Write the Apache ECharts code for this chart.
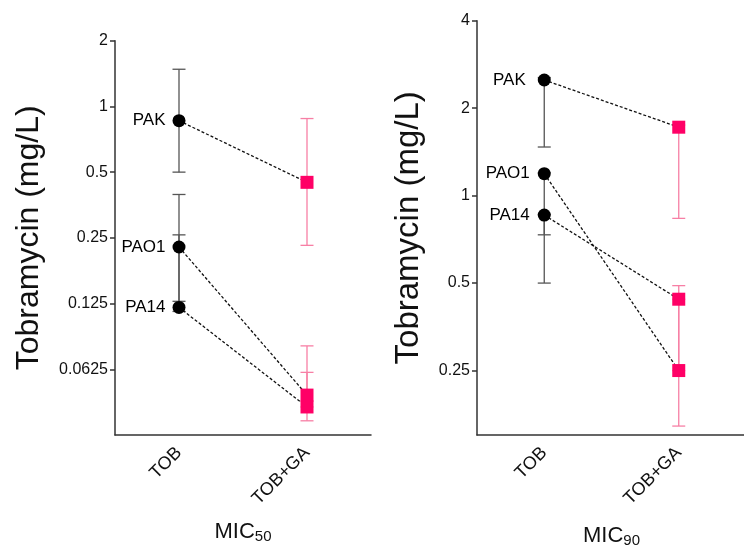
<!DOCTYPE html>
<html>
<head>
<meta charset="utf-8">
<script src="https://cdn.jsdelivr.net/npm/echarts@6/dist/echarts.min.js"></script>
<style>
  html, body { margin: 0; padding: 0; background: #fff; }
  #chart { width: 744px; height: 546px; }
</style>
</head>
<body>
<div id="chart"></div>
<script>
var categories = ["TOB", "TOB+GA"];
var strains = ["PAK", "PAO1", "PA14"];

// MIC50 (mg/L)
var mic50Tob = [0.86, 0.227, 0.12];
var mic50TobLo = [0.5, 0.128, 0.115];
var mic50TobHi = [1.48, 0.395, 0.258];
var mic50Ga = [0.449, 0.0476, 0.042];
var mic50GaLo = [0.231, 0.042, 0.0363];
var mic50GaHi = [0.88, 0.08, 0.0605];
var mic50Ticks = ["2", "1", "0.5", "0.25", "0.125", "0.0625"];

// MIC90 (mg/L)
var mic90Tob = [2.5, 1.19, 0.857];
var mic90TobLo = [1.47, 0.733, 0.5];
var mic90TobHi = [2.55, 1.2, 0.86];
var mic90Ga = [1.72, 0.25, 0.44];
var mic90GaLo = [0.835, 0.161, 0.25];
var mic90GaHi = [1.75, 0.44, 0.49];
var mic90Ticks = ["4", "2", "1", "0.5", "0.25"];

var FONT = "Liberation Sans, Arial, sans-serif";
var PINK = "#ff0066";
var PINK_BAR = "#f77fa5";
var GREY_BAR = "#555";

function lg(v) { return Math.log2(v); }

var myChart = echarts.init(document.getElementById("chart"));

function errorBars(gridIdx, lo, hi, catIdx, color) {
  return {
    type: "custom",
    xAxisIndex: gridIdx,
    yAxisIndex: gridIdx,
    z: 1,
    silent: true,
    data: lo.map(function (v, i) { return [catIdx, lg(v), lg(hi[i])]; }),
    renderItem: function (params, api) {
      var low = api.coord([api.value(0), api.value(1)]);
      var high = api.coord([api.value(0), api.value(2)]);
      var w = 6.5;
      var style = { stroke: color, lineWidth: 1.3 };
      return {
        type: "group",
        children: [
          { type: "line", shape: { x1: low[0], y1: low[1], x2: high[0], y2: high[1] }, style: style },
          { type: "line", shape: { x1: low[0] - w, y1: low[1], x2: low[0] + w, y2: low[1] }, style: style },
          { type: "line", shape: { x1: high[0] - w, y1: high[1], x2: high[0] + w, y2: high[1] }, style: style }
        ]
      };
    }
  };
}

function panelSeries(gridIdx, tob, tobLo, tobHi, ga, gaLo, gaHi, labelGaps) {
  var s = [];
  // dashed connectors
  strains.forEach(function (name, k) {
    s.push({
      type: "line",
      xAxisIndex: gridIdx,
      yAxisIndex: gridIdx,
      symbol: "none",
      z: 2,
      silent: true,
      lineStyle: { color: "#111", width: 1.3, type: [3, 2] },
      data: [[0, lg(tob[k])], [1, lg(ga[k])]]
    });
  });
  s.push(errorBars(gridIdx, tobLo, tobHi, 0, GREY_BAR));
  s.push(errorBars(gridIdx, gaLo, gaHi, 1, PINK_BAR));
  s.push({
    type: "scatter",
    xAxisIndex: gridIdx,
    yAxisIndex: gridIdx,
    symbol: "circle",
    symbolSize: 13,
    z: 3,
    itemStyle: { color: "#000", opacity: 1 },
    data: tob.map(function (v, k) {
      return {
        value: [0, lg(v)],
        label: {
          show: true,
          position: "left",
          distance: labelGaps[k],
          formatter: strains[k],
          color: "#000",
          fontFamily: FONT,
          fontSize: 17
        }
      };
    })
  });
  s.push({
    type: "scatter",
    xAxisIndex: gridIdx,
    yAxisIndex: gridIdx,
    symbol: "rect",
    symbolSize: 13,
    z: 3,
    itemStyle: { color: PINK, opacity: 1 },
    data: ga.map(function (v) { return [1, lg(v)]; })
  });
  return s;
}

function xAxisOf(gridIdx, sub, gap) {
  return {
    type: "category",
    gridIndex: gridIdx,
    data: categories,
    boundaryGap: true,
    axisLine: { onZero: false, lineStyle: { color: "#333", width: 1.5 } },
    axisTick: { alignWithLabel: true, length: 5, lineStyle: { color: "#333", width: 1.5 } },
    axisLabel: { rotate: 45, margin: 15, color: "#111", fontFamily: FONT, fontSize: 18 },
    name: "{a|MIC}{b|" + sub + "}",
    nameLocation: "middle",
    nameGap: gap,
    nameTextStyle: {
      rich: {
        a: { fontFamily: FONT, fontSize: 22, color: "#111" },
        b: { fontFamily: FONT, fontSize: 15, color: "#111", padding: [10, 0, 0, 0] }
      }
    }
  };
}

function yAxisOf(gridIdx, ticks, min, max, fontSize, gap) {
  var vals = ticks.map(function (t) { return lg(Number(t)); });
  return {
    type: "value",
    gridIndex: gridIdx,
    min: min,
    max: max,
    splitLine: { show: false },
    axisLine: { show: true, lineStyle: { color: "#333", width: 1.5 } },
    axisTick: { show: true, length: 5, customValues: vals, lineStyle: { color: "#333", width: 1.5 } },
    axisLabel: {
      customValues: vals,
      margin: 7,
      color: "#111",
      fontFamily: FONT,
      fontSize: 16,
      formatter: function (v) {
        var r = Math.pow(2, v);
        return String(+r.toPrecision(4));
      }
    },
    name: "Tobramycin (mg/L)",
    nameLocation: "middle",
    nameRotate: 90,
    nameGap: gap,
    nameTextStyle: { fontFamily: FONT, fontSize: fontSize, color: "#111" }
  };
}

myChart.setOption({
  backgroundColor: "#fff",
  animation: false,
  grid: [
    { left: 115, right: 373, top: 40.7, bottom: 111, containLabel: false, outerBoundsMode: "none" },
    { left: 477, right: -2, top: 20.7, bottom: 111, containLabel: false, outerBoundsMode: "none" }
  ],
  xAxis: [xAxisOf(0, "50", 84), xAxisOf(1, "90", 88)],
  yAxis: [
    yAxisOf(0, mic50Ticks, -5, 1, 32, 70),
    yAxisOf(1, mic90Ticks, lg(0.15), 2, 33, 52)
  ],
  series: []
    .concat(panelSeries(0, mic50Tob, mic50TobLo, mic50TobHi, mic50Ga, mic50GaLo, mic50GaHi, [7, 7, 7]))
    .concat(panelSeries(1, mic90Tob, mic90TobLo, mic90TobHi, mic90Ga, mic90GaLo, mic90GaHi, [12, 8, 8]))
});

window.addEventListener("resize", function () {
  myChart.resize();
});
</script>
</body>
</html>
